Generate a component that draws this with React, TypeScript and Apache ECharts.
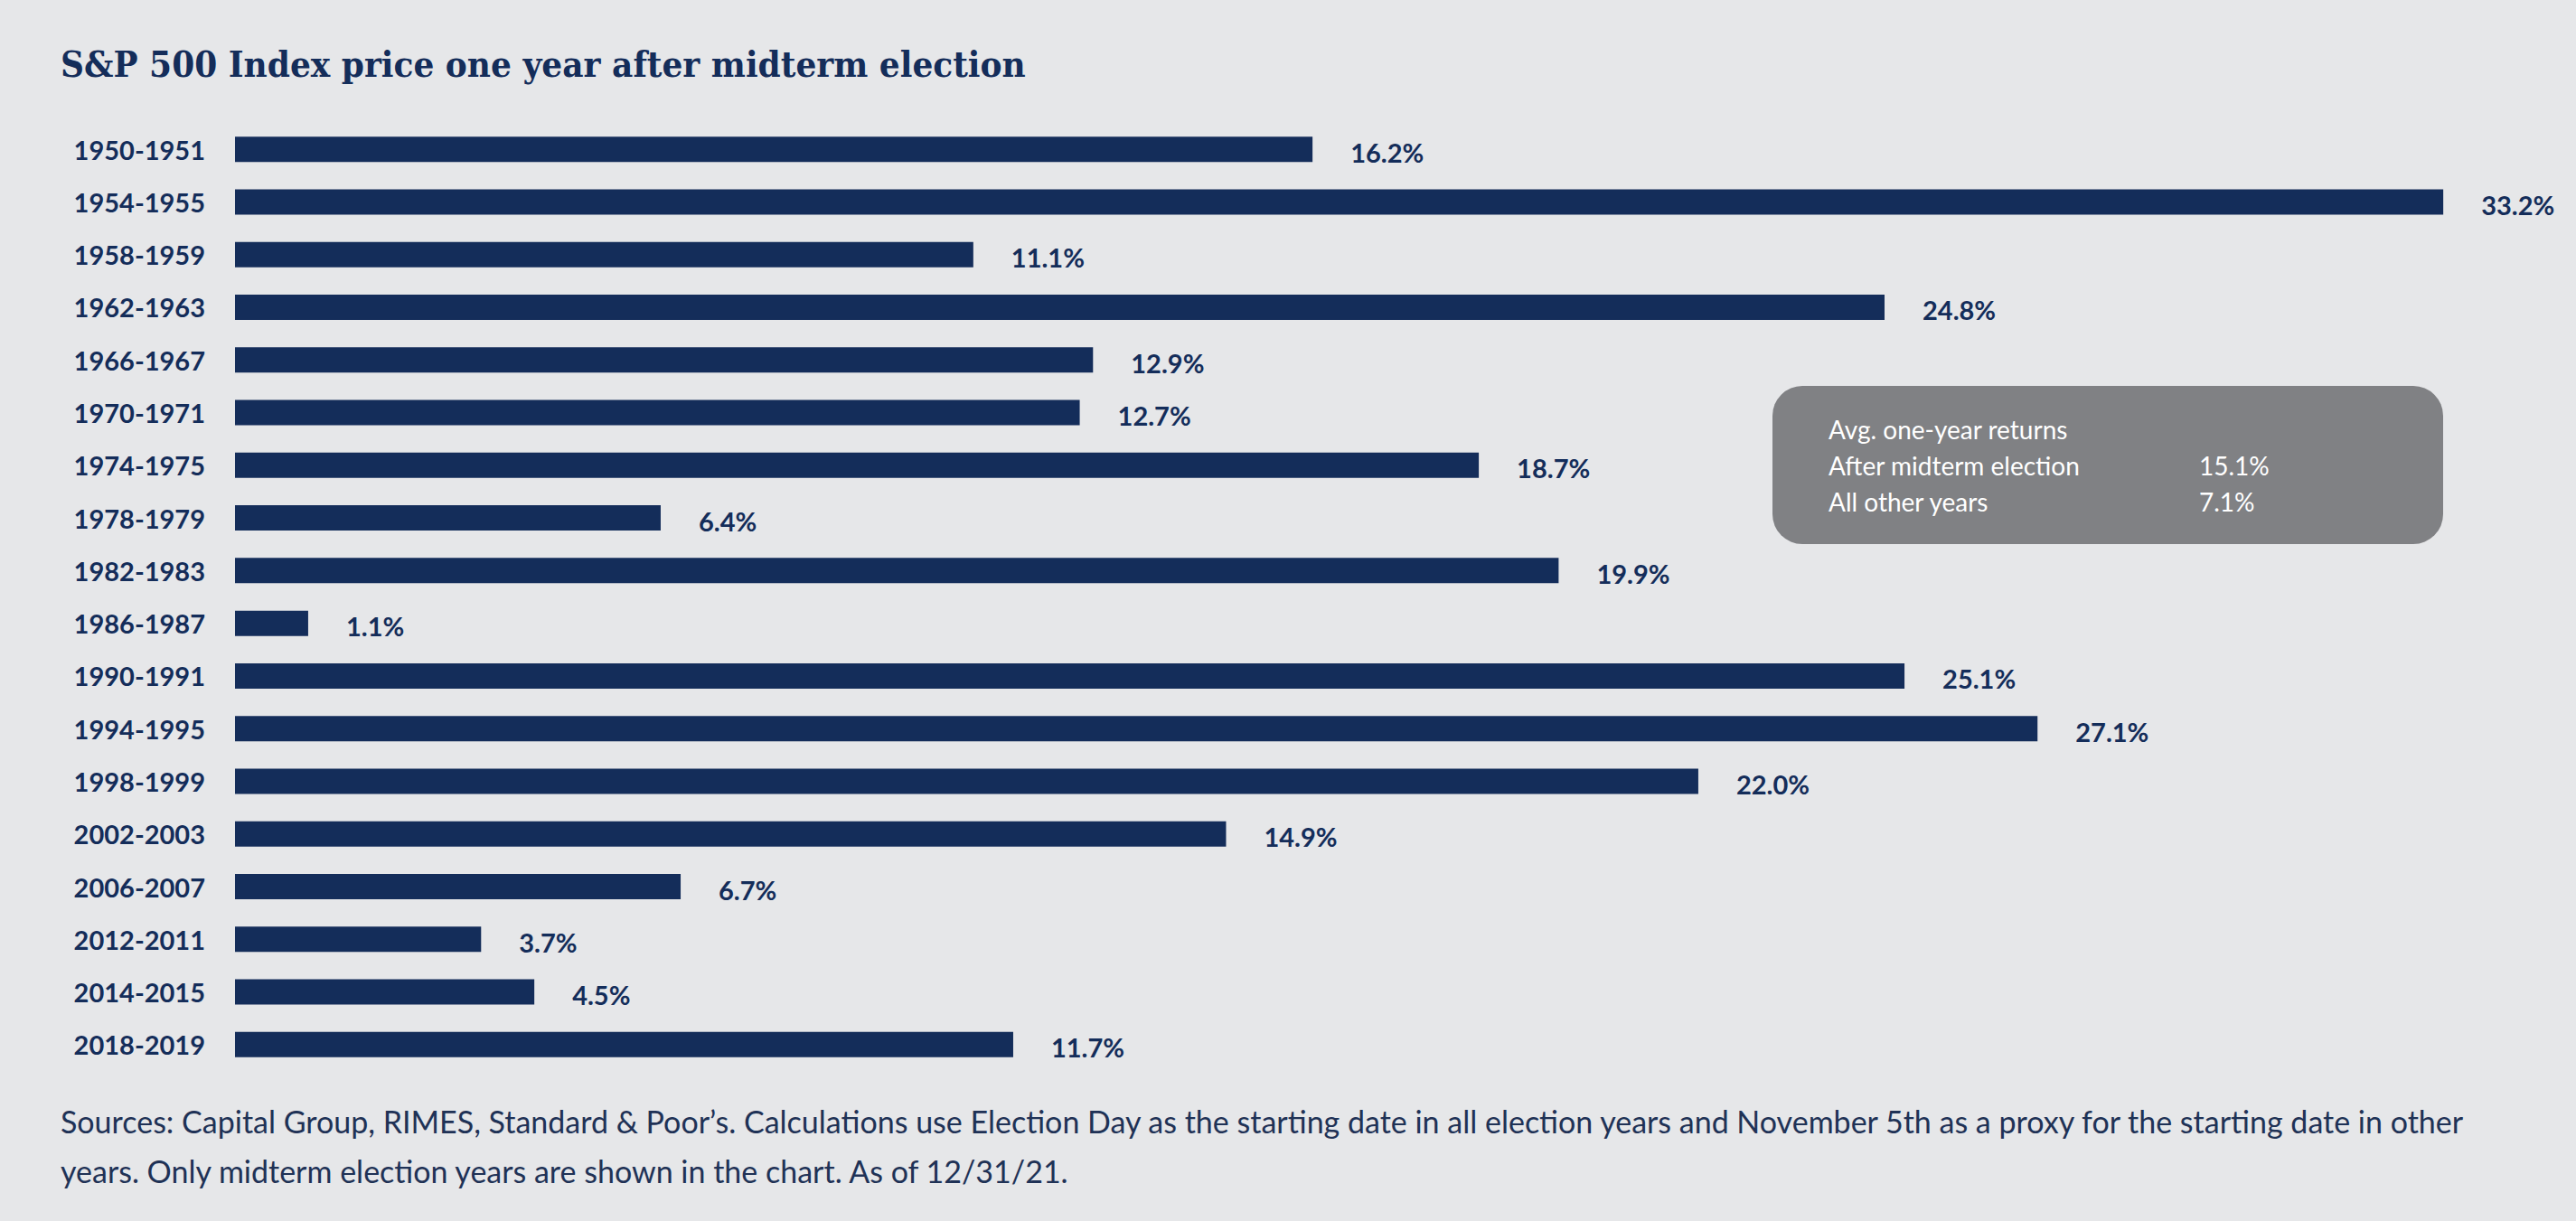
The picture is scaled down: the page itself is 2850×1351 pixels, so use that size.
import React, { useEffect, useRef } from "react";
import * as echarts from "echarts";

const categories = [
  "1950-1951", "1954-1955", "1958-1959", "1962-1963", "1966-1967", "1970-1971",
  "1974-1975", "1978-1979", "1982-1983", "1986-1987", "1990-1991", "1994-1995",
  "1998-1999", "2002-2003", "2006-2007", "2012-2011", "2014-2015", "2018-2019",
];
const returns = [16.2, 33.2, 11.1, 24.8, 12.9, 12.7, 18.7, 6.4, 19.9, 1.1, 25.1, 27.1, 22.0, 14.9, 6.7, 3.7, 4.5, 11.7];

const titleText = "S&P 500 Index price one year after midterm election";
const boxLabels = ["Avg. one-year returns", "After midterm election", "All other years"];
const boxValues = ["", "15.1%", "7.1%"];
const footnoteLines = [
  "Sources: Capital Group, RIMES, Standard & Poor\u2019s. Calculations use Election Day as the starting date in all election years and November 5th as a proxy for the starting date in other",
  "years. Only midterm election years are shown in the chart. As of 12/31/21.",
];

const NAVY = "#142d5a";
const BG = "#e6e7e9";

export default function App() {
  const ref = useRef<HTMLDivElement>(null);
  useEffect(() => {
    document.body.style.margin = "0";
    const chart = echarts.init(ref.current!, null, { renderer: "svg" });
    const fs = 29;
    const boxFs = 28;
    const footFs = 34;
    const graphics: any[] = [
      {
        type: "rect",
        shape: { x: 1961, y: 427, width: 742, height: 175, r: 33 },
        style: { fill: "#808184" },
      },
    ];
    boxLabels.forEach((t, i) => {
      const base = 485 + i * 40;
      graphics.push({
        type: "text",
        style: {
          x: 2023, y: base - 10, text: t, fill: "#ffffff",
          font: `400 ${boxFs}px Lato`, verticalAlign: "middle",
        },
      });
      if (boxValues[i]) {
        graphics.push({
          type: "text",
          style: {
            x: 2433, y: base - 10, text: boxValues[i], fill: "#ffffff",
            font: `400 ${boxFs}px Lato`, verticalAlign: "middle",
          },
        });
      }
    });
    footnoteLines.forEach((t, i) => {
      const base = 1252 + i * 55;
      graphics.push({
        type: "text",
        style: {
          x: 67, y: base - 12, text: t, fill: "#1f3256",
          font: `400 ${footFs}px Lato`, verticalAlign: "middle",
        },
      });
    });
    chart.setOption({
      animation: false,
      backgroundColor: BG,
      title: {
        text: titleText,
        left: 62,
        top: 45,
        textStyle: {
          color: NAVY,
          fontFamily: "DejaVu Serif Condensed",
          fontWeight: "bold",
          fontSize: 40,
        },
      },
      grid: { left: 260, right: 88, top: 136, bottom: 166, containLabel: false },
      xAxis: {
        type: "value",
        min: 0,
        max: 34,
        show: false,
      },
      yAxis: {
        type: "category",
        data: categories,
        inverse: true,
        axisLine: { show: false },
        axisTick: { show: false },
        splitLine: { show: false },
        axisLabel: {
          color: NAVY,
          fontFamily: "Lato",
          fontWeight: "bold",
          fontSize: fs,
          margin: 33,
        },
      },
      series: [
        {
          type: "bar",
          data: returns,
          barWidth: 28,
          itemStyle: { color: NAVY },
          label: {
            show: true,
            position: "right",
            distance: 42,
            offset: [0, 3],
            color: NAVY,
            fontFamily: "Lato",
            fontWeight: "bold",
            fontSize: fs,
            formatter: (p: any) => p.value.toFixed(1) + "%",
          },
        },
      ],
      graphic: graphics,
    });
    return () => chart.dispose();
  }, []);
  return <div ref={ref} style={{ position: "fixed", left: 0, top: 0, width: 2850, height: 1351 }} />;
}
